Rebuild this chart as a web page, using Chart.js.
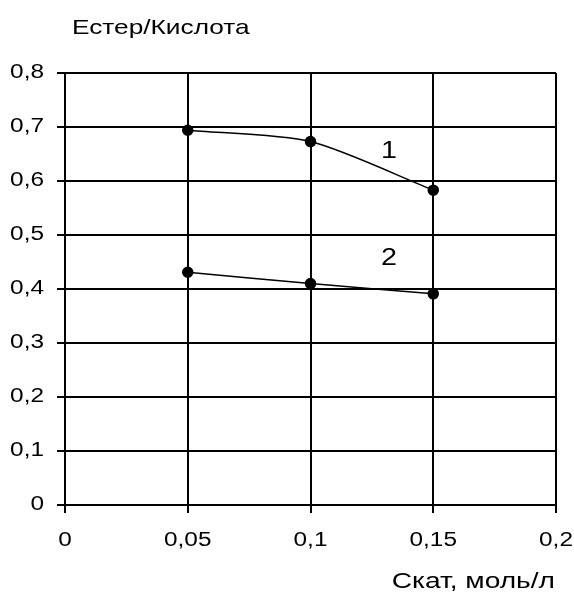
<!DOCTYPE html>
<html>
<head>
<meta charset="utf-8">
<title>Естер/Кислота</title>
<script src="https://cdn.jsdelivr.net/npm/chart.js@4.4.1/dist/chart.umd.min.js"></script>
<style>
  html, body { margin: 0; padding: 0; background: #fff; }
  canvas { display: block; }
</style>
</head>
<body>
<canvas id="chart" width="574" height="596"></canvas>
<script>
// ── Data ─────────────────────────────────────────────
const concentrations = [0.05, 0.1, 0.15];       // Скат, моль/л
const ratioCurve1 = [0.694, 0.673, 0.583];      // крива 1
const ratioCurve2 = [0.431, 0.41, 0.391];       // крива 2
const curveNames = ['1', '2'];
const curveLabelX = [0.132, 0.132];
const curveLabelY = [0.655, 0.456];
const xTicks = [0, 0.05, 0.1, 0.15, 0.2];
const yTicks = [0, 0.1, 0.2, 0.3, 0.4, 0.5, 0.6, 0.7, 0.8];

const yTitle = 'Естер/Кислота';
const xTitle = 'Скат, моль/л';

const FONT = '"Liberation Sans", Arial, sans-serif';
const STRETCH = 1.25;   // text in the source is horizontally wide

const fmt = v => String(Math.round(v * 100) / 100).replace('.', ',');

function wideText(ctx, text, x, y, size, align) {
  ctx.save();
  ctx.font = size + 'px ' + FONT;
  ctx.fillStyle = '#000';
  ctx.textBaseline = 'middle';
  const w = ctx.measureText(text).width * STRETCH;
  let left = x;
  if (align === 'center') left = x - w / 2;
  if (align === 'right') left = x - w;
  ctx.translate(left, y);
  ctx.scale(STRETCH, 1);
  ctx.textAlign = 'left';
  ctx.fillText(text, 0, 0);
  ctx.restore();
}

// ── Labels plugin ────────────────────────────────────
const labelsPlugin = {
  id: 'labels',
  afterDraw(chart) {
    const ctx = chart.ctx;
    const xs = chart.scales.x, ys = chart.scales.y;
    yTicks.forEach(v => wideText(ctx, fmt(v), 44, ys.getPixelForValue(v), 19.5, 'right'));
    xTicks.forEach(v => wideText(ctx, fmt(v), xs.getPixelForValue(v), 541, 19.5, 'center'));
    curveNames.forEach((n, i) =>
      wideText(ctx, n, xs.getPixelForValue(curveLabelX[i]), ys.getPixelForValue(curveLabelY[i]), 23, 'center'));
    wideText(ctx, yTitle, 72, 28, 21, 'left');
    wideText(ctx, xTitle, 555, 582, 22.5, 'right');
  }
};

const series = (data) => ({
  data: concentrations.map((c, i) => ({ x: c, y: data[i] })),
  borderColor: '#000',
  backgroundColor: '#000',
  borderWidth: 1.5,
  pointRadius: 5,
  pointHoverRadius: 5,
  pointBackgroundColor: '#000',
  pointBorderColor: '#000',
  tension: 0.25
});

new Chart(document.getElementById('chart'), {
  type: 'line',
  data: { datasets: [series(ratioCurve1), series(ratioCurve2)] },
  options: {
    responsive: false,
    animation: false,
    devicePixelRatio: 1,
    layout: { padding: { left: 0, top: 73, right: 18, bottom: 0 } },
    plugins: { legend: { display: false }, tooltip: { enabled: false } },
    scales: {
      x: {
        type: 'linear', min: 0, max: 0.2,
        afterBuildTicks: s => { s.ticks = xTicks.map(v => ({ value: v })); },
        afterFit: s => { s.height = 91; },
        ticks: { display: false },
        grid: { color: '#000', lineWidth: 2, tickLength: 8, drawTicks: true },
        border: { color: '#000', width: 2 }
      },
      y: {
        type: 'linear', min: 0, max: 0.8,
        afterBuildTicks: s => { s.ticks = yTicks.map(v => ({ value: v })); },
        afterFit: s => { s.width = 65; },
        ticks: { display: false },
        grid: { color: '#000', lineWidth: 2, tickLength: 8, drawTicks: true },
        border: { color: '#000', width: 2 }
      }
    }
  },
  plugins: [labelsPlugin]
});
</script>
</body>
</html>
